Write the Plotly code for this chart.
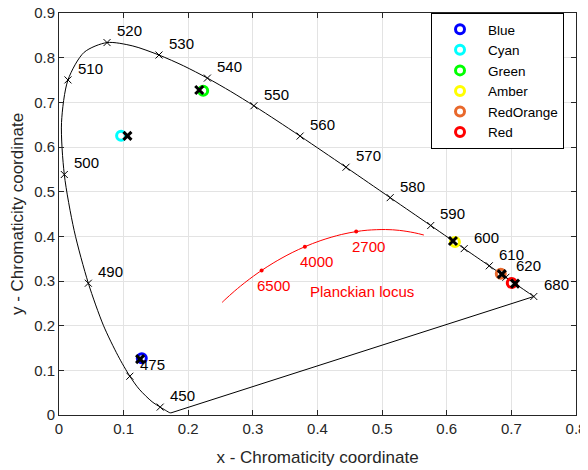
import plotly.graph_objects as go

# CIE 1931 spectral locus (nm, x, y)
locus_nm = [400, 420, 430, 440, 450, 460, 470, 475, 480, 485, 490, 495, 500, 505, 510, 515, 520, 525,
            530, 535, 540, 545, 550, 555, 560, 565, 570, 575, 580, 585, 590, 595, 600, 605, 610, 615,
            620, 625, 630, 640, 650, 660, 670, 680]
locus_x = [0.1733, 0.1714, 0.1689, 0.1644, 0.1566, 0.1440, 0.1241, 0.1096, 0.0913, 0.0687, 0.0454,
           0.0235, 0.0082, 0.0039, 0.0139, 0.0389, 0.0743, 0.1142, 0.1547, 0.1929, 0.2296, 0.2658,
           0.3016, 0.3373, 0.3731, 0.4087, 0.4441, 0.4788, 0.5125, 0.5448, 0.5752, 0.6029, 0.6270,
           0.6482, 0.6658, 0.6801, 0.6915, 0.7006, 0.7079, 0.7190, 0.7260, 0.7300, 0.7320, 0.7347]
locus_y = [0.0048, 0.0051, 0.0069, 0.0109, 0.0177, 0.0297, 0.0578, 0.0868, 0.1327, 0.2007, 0.2950,
           0.4127, 0.5384, 0.6548, 0.7502, 0.8120, 0.8338, 0.8262, 0.8059, 0.7816, 0.7543, 0.7243,
           0.6923, 0.6589, 0.6245, 0.5896, 0.5547, 0.5202, 0.4866, 0.4544, 0.4242, 0.3965, 0.3725,
           0.3514, 0.3340, 0.3197, 0.3083, 0.2993, 0.2920, 0.2809, 0.2740, 0.2700, 0.2680, 0.2653]

# line of purples
purple_x = [0.1733, 0.7347]
purple_y = [0.0048, 0.2653]

# labelled wavelengths
label_nm = [450, 475, 490, 500, 510, 520, 530, 540, 550, 560, 570, 580, 590, 600, 610, 620, 680]

# Planckian locus (K, x, y)
planck_T = [1667, 1800, 2000, 2200, 2500, 2700, 3000, 3500, 4000, 4500, 5000, 5500, 6000, 6500,
            7000, 8000, 9000, 10000, 12000, 15000, 20000, 25000]
planck_x = [0.5646, 0.5496, 0.5267, 0.5054, 0.4770, 0.4599, 0.4369, 0.4053, 0.3805, 0.3608, 0.3451,
            0.3325, 0.3221, 0.3135, 0.3064, 0.2952, 0.2869, 0.2807, 0.2720, 0.2637, 0.2565, 0.2525]
planck_y = [0.4029, 0.4081, 0.4133, 0.4152, 0.4137, 0.4106, 0.4041, 0.3907, 0.3768, 0.3636, 0.3516,
            0.3411, 0.3318, 0.3236, 0.3166, 0.3048, 0.2956, 0.2884, 0.2779, 0.2673, 0.2577, 0.2522]
cct_marks = [6500, 4000, 2700]

# LEDs
led_names = ["Blue", "Cyan", "Green", "Amber", "RedOrange", "Red"]
led_colors = ["rgb(0,0,255)", "rgb(0,255,255)", "rgb(0,255,0)", "rgb(255,255,0)",
              "rgb(232,104,44)", "rgb(255,0,0)"]
led_x = [0.1281, 0.0961, 0.2231, 0.6127, 0.6836, 0.7006]
led_y = [0.1273, 0.6250, 0.7260, 0.3873, 0.3161, 0.2957]
meas_x = [0.1255, 0.1059, 0.2170, 0.6096, 0.6852, 0.7057]
meas_y = [0.1251, 0.6250, 0.7276, 0.3895, 0.3155, 0.2942]

# axis ticks
x_ticks = [0, 0.1, 0.2, 0.3, 0.4, 0.5, 0.6, 0.7, 0.8]
x_ticklabels = ["0", "0.1", "0.2", "0.3", "0.4", "0.5", "0.6", "0.7", "0.8"]
y_ticks = [0, 0.1, 0.2, 0.3, 0.4, 0.5, 0.6, 0.7, 0.8, 0.9]
y_ticklabels = ["0", "0.1", "0.2", "0.3", "0.4", "0.5", "0.6", "0.7", "0.8", "0.9"]

FONT = "Liberation Sans, Arial, Helvetica, sans-serif"
TXT = "#262626"

fig = go.Figure()

fig.add_trace(go.Scatter(x=locus_x, y=locus_y, mode="lines",
                         line=dict(color="black", width=1, shape="spline", smoothing=0.8),
                         showlegend=False, hoverinfo="skip"))
fig.add_trace(go.Scatter(x=purple_x, y=purple_y, mode="lines",
                         line=dict(color="black", width=1), showlegend=False, hoverinfo="skip"))

lx = [locus_x[locus_nm.index(n)] for n in label_nm]
ly = [locus_y[locus_nm.index(n)] for n in label_nm]
fig.add_trace(go.Scatter(x=lx, y=ly, mode="markers",
                         marker=dict(symbol="x-thin-open", size=7, color="black",
                                     line=dict(width=1, color="black")),
                         showlegend=False, hoverinfo="skip"))

fig.add_trace(go.Scatter(x=planck_x, y=planck_y, mode="lines",
                         line=dict(color="red", width=1, shape="spline"),
                         showlegend=False, hoverinfo="skip"))
cx = [planck_x[planck_T.index(t)] for t in cct_marks]
cy = [planck_y[planck_T.index(t)] for t in cct_marks]
fig.add_trace(go.Scatter(x=cx, y=cy, mode="markers", marker=dict(color="red", size=4),
                         showlegend=False, hoverinfo="skip"))

for name, col, x, y in zip(led_names, led_colors, led_x, led_y):
    fig.add_trace(go.Scatter(x=[x], y=[y], mode="markers", name=name,
                             marker=dict(symbol="circle-open", size=9, color=col,
                                         line=dict(width=3, color=col))))

fig.add_trace(go.Scatter(x=meas_x, y=meas_y, mode="markers",
                         marker=dict(symbol="x-thin-open", size=8, color="black",
                                     line=dict(width=3, color="black")),
                         showlegend=False, hoverinfo="skip"))

for n, x, y in zip(label_nm, lx, ly):
    fig.add_annotation(x=x + 0.012, y=y + 0.026, text=str(n), showarrow=False,
                       xanchor="left", yanchor="middle", font=dict(size=15, color="black", family=FONT))

for t, x, y in zip(cct_marks, cx, cy):
    fig.add_annotation(x=x - 0.01, y=y - 0.033, text=str(t), showarrow=False,
                       xanchor="left", yanchor="middle", font=dict(size=15, color="red", family=FONT))

fig.add_annotation(x=0.386, y=0.2775, text="Planckian locus", showarrow=False,
                   xanchor="left", yanchor="middle", font=dict(size=15, color="red", family=FONT))

axis_common = dict(showgrid=True, gridcolor="#e3e3e3", gridwidth=1, zeroline=False,
                   showline=True, linecolor=TXT, linewidth=1, mirror="ticks",
                   ticks="inside", ticklen=5, tickcolor=TXT, automargin=False,
                   ticklabeloverflow="allow",
                   tickfont=dict(size=15, color=TXT, family=FONT))

fig.update_xaxes(range=[0, 0.8], tickmode="array", tickvals=x_ticks, ticktext=x_ticklabels,
                 title=dict(text="x - Chromaticity coordinate", font=dict(size=17, color=TXT, family=FONT),
                            standoff=15), **axis_common)
fig.update_yaxes(range=[0, 0.9], tickmode="array", tickvals=y_ticks, ticktext=y_ticklabels,
                 title=dict(text="y - Chromaticity coordinate", font=dict(size=17, color=TXT, family=FONT),
                            standoff=10), **axis_common)

fig.update_layout(
    width=580, height=462,
    margin=dict(l=51, r=12, t=5, b=55),
    plot_bgcolor="white", paper_bgcolor="white",
    font=dict(family=FONT, color=TXT),
    legend=dict(x=0.9768, y=1.0, xanchor="right", yanchor="top",
                bgcolor="white", bordercolor="black", borderwidth=1,
                font=dict(size=13.5, color="black", family=FONT), itemwidth=46),
)

fig.write_html("out.html")
